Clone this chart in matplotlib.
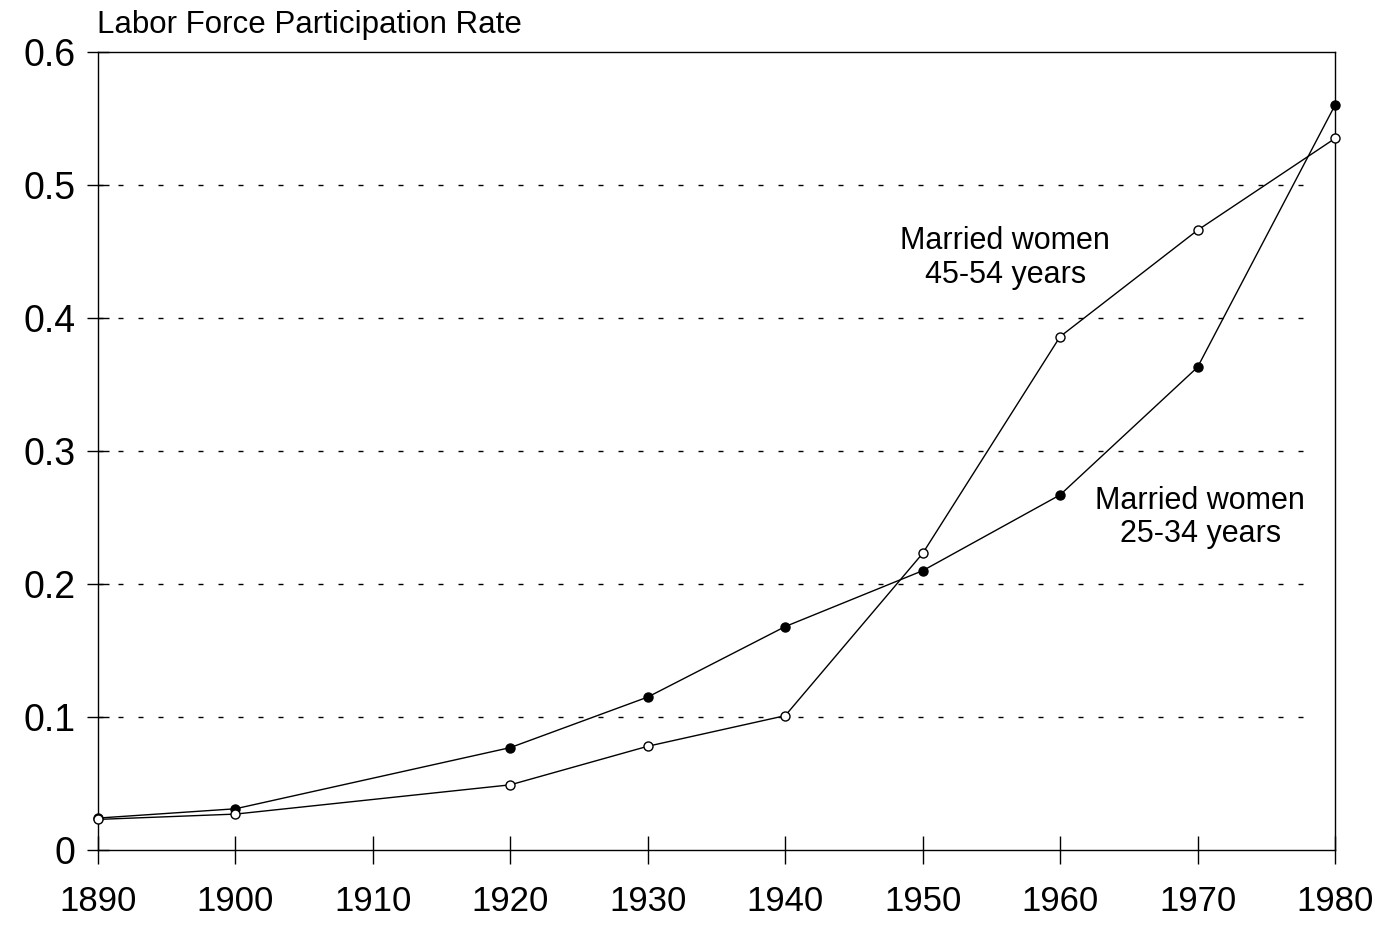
import matplotlib
matplotlib.use("Agg")
import matplotlib.pyplot as plt

plt.rcParams['font.family'] = ['Liberation Sans', 'DejaVu Sans']

# Data
years = [1890, 1900, 1920, 1930, 1940, 1950, 1960, 1970, 1980]
women_25_34 = [0.024, 0.031, 0.077, 0.115, 0.168, 0.210, 0.267, 0.363, 0.560]
women_45_54 = [0.023, 0.027, 0.049, 0.078, 0.101, 0.223, 0.386, 0.466, 0.535]
x_ticks = [1890, 1900, 1910, 1920, 1930, 1940, 1950, 1960, 1970, 1980]
y_ticks = [0, 0.1, 0.2, 0.3, 0.4, 0.5, 0.6]
y_tick_labels = ['0', '0.1', '0.2', '0.3', '0.4', '0.5', '0.6']
grid_levels = [0.1, 0.2, 0.3, 0.4, 0.5]
title = "Labor Force Participation Rate"
label_45_54 = "Married women\n45-54 years"
label_25_34 = "Married women\n25-34 years"

W, H = 1398, 940
fig = plt.figure(figsize=(W / 100, H / 100), dpi=100)
fig.patch.set_facecolor('white')
left, right, top, bottom = 98, 1335, 52, 850
ax = fig.add_axes([left / W, 1 - bottom / H, (right - left) / W, (bottom - top) / H])

ax.set_xlim(1890, 1980)
ax.set_ylim(0, 0.6)

for g in grid_levels:
    ax.axhline(g, xmin=0, xmax=0.985, color='black', lw=1.0,
               linestyle=(0, (3.6, 10.8)), zorder=1)

ax.plot(years, women_25_34, color='black', lw=1.0, marker='o', ms=6.5,
        mfc='black', mec='black', zorder=3, clip_on=False)
ax.plot(years, women_45_54, color='black', lw=1.0, marker='o', ms=6.5,
        mfc='white', mec='black', mew=1.0, zorder=4, clip_on=False)

ax.text(1956, 0.445, label_45_54, ha='center', va='center', fontsize=22,
        linespacing=1.15)
ax.text(1970.2, 0.25, label_25_34, ha='center', va='center', fontsize=22,
        linespacing=1.15)

ax.set_xticks(x_ticks)
ax.set_xticklabels([str(t) for t in x_ticks])
ax.set_yticks(y_ticks)
ax.set_yticklabels(y_tick_labels)
ax.tick_params(axis='x', direction='inout', length=20, width=1.0, pad=15,
               labelsize=25)
ax.tick_params(axis='y', direction='inout', length=16, width=1.0, pad=8,
               labelsize=27)
for s in ax.spines.values():
    s.set_linewidth(1.0)
    s.set_color('black')

fig.text(97 / W, 1 - 25 / H, title, ha='left', va='center', fontsize=22.5)

fig.savefig('out.png', dpi=100, facecolor='white')
